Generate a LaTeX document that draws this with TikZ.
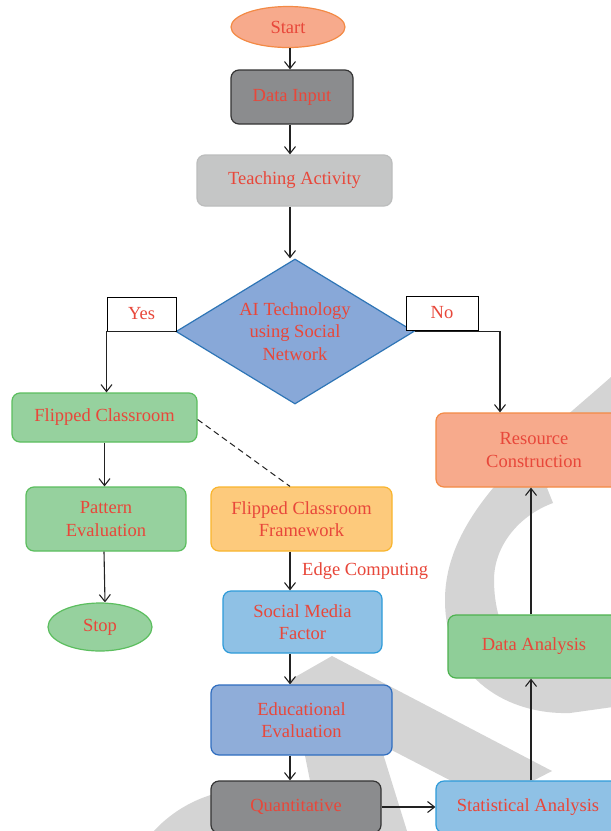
\documentclass[tikz,border=0pt]{standalone}
\usepackage{fontspec}
\setmainfont{Liberation Serif}
\usetikzlibrary{arrows.meta,shapes.geometric}
\definecolor{txt}{HTML}{E8473A}
\definecolor{wm}{HTML}{D4D4D4}
\definecolor{lineC}{HTML}{222222}
\definecolor{orF}{HTML}{F7AA8C}\definecolor{orD}{HTML}{F38A45}
\definecolor{dgF}{HTML}{8B8C8E}\definecolor{dgD}{HTML}{343434}
\definecolor{lgF}{HTML}{C5C6C6}\definecolor{lgD}{HTML}{BCBDBD}
\definecolor{diaF}{HTML}{88A8D8}\definecolor{diaD}{HTML}{2E75B6}
\definecolor{grF}{HTML}{96D19E}\definecolor{grD}{HTML}{5BBE5E}
\definecolor{yeF}{HTML}{FDCA7C}\definecolor{yeD}{HTML}{F9B52D}
\definecolor{lbF}{HTML}{8FC1E5}\definecolor{lbD}{HTML}{2E9BD9}
\definecolor{mbF}{HTML}{8FADD9}\definecolor{mbD}{HTML}{2F6DBF}
\definecolor{daF}{HTML}{8FCE98}\definecolor{daD}{HTML}{4DB24F}
\tikzset{
  txtfont/.style={font=\fontsize{18.5}{22.5}\selectfont, text=txt},
  box/.style={rectangle, rounded corners=8pt, line width=1.2pt, align=center, inner sep=0pt, txtfont},
  ell/.style={ellipse, line width=1.2pt, inner sep=0pt, txtfont},
  lab/.style={rectangle, draw=black, fill=white, line width=1pt, inner sep=0pt, txtfont},
  arr/.style={-{Straight Barb[length=7pt,width=11pt]}, line width=1.1pt, draw=lineC},
}
\begin{document}
\begin{tikzpicture}[x=1pt,y=-1pt]
\useasboundingbox (0,0) rectangle (611,831);
\fill[white] (0,0) rectangle (611,831);
% watermark
\begin{scope}
\clip (0,0) rectangle (611,831);
\fill[wm] (620,370) -- (611,377) .. controls (540,440) and (445,510) .. (445,600)
  .. controls (445,680) and (510,715) .. (570,713) -- (620,706) -- (620,672) -- (565,677)
  .. controls (520,677) and (494,630) .. (494,580) .. controls (494,545) and (520,515) .. (553,503)
  -- (547,488) -- (620,425) -- cycle;
\fill[wm] (332,656) -- (552,771) -- (492,802) -- (380,744) -- (407,831) -- (320,831) -- (290,680) -- cycle;
\fill[wm] (250,920) circle[radius=131pt];
\end{scope}
\coordinate (ax) at (290,0);
\coordinate (vx) at (531,0);
% nodes
\node[ell, fill=orF, draw=orD, minimum width=114pt, minimum height=41pt] (start) at (288,27) {Start};
\node[box, fill=dgF, draw=dgD, minimum width=122pt, minimum height=54pt] (di) at (292,97) {Data Input};
\node[box, fill=lgF, draw=lgD, minimum width=195pt, minimum height=51pt] (ta) at (294.5,180.5) {Teaching Activity};
\node[diamond, aspect=1.63, minimum width=238pt, minimum height=145pt, fill=diaF, draw=diaD, line width=1.2pt, inner sep=0pt, align=center, txtfont] (dia) at (295,331.5) {AI Technology\\using Social\\Network};
\node[lab, minimum width=69pt, minimum height=34pt] (yes) at (141.5,314) {Yes};
\node[lab, minimum width=72pt, minimum height=34pt] (no) at (442,313) {No};
\node[box, fill=grF, draw=grD, minimum width=185pt, minimum height=49pt] (fc) at (104.5,417.5) {Flipped Classroom};
\node[box, fill=grF, draw=grD, minimum width=160pt, minimum height=64pt] (pe) at (106,519) {Pattern\\Evaluation};
\node[ell, fill=grF, draw=grD, minimum width=104pt, minimum height=48pt] (stop) at (100,627) {Stop};
\node[box, fill=yeF, draw=yeD, minimum width=181pt, minimum height=64pt] (fcf) at (301.5,519) {Flipped Classroom\\Framework};
\node[txtfont, inner sep=0pt, anchor=west] (edge) at (302,571) {Edge Computing};
\node[box, fill=lbF, draw=lbD, minimum width=159pt, minimum height=62pt] (smf) at (302.5,622) {Social Media\\Factor};
\node[box, fill=mbF, draw=mbD, minimum width=181pt, minimum height=70pt] (ee) at (301.5,720) {Educational\\Evaluation};
\node[box, fill=dgF, draw=dgD, minimum width=170pt, minimum height=52pt] (q) at (296,807) {Quantitative};
\node[box, fill=lbF, draw=lbD, minimum width=184pt, minimum height=52pt] (stat) at (528,807) {Statistical Analysis};
\node[box, fill=daF, draw=daD, minimum width=172pt, minimum height=63pt] (da) at (534,646.5) {Data Analysis};
\node[box, fill=orF, draw=orD, minimum width=196pt, minimum height=74pt] (rc) at (534,450) {Resource\\Construction};
% connectors
\draw[arr] (start.south -| ax) -- (di.north -| ax);
\draw[arr] (di.south -| ax) -- (ta.north -| ax);
\draw[arr] (ta.south -| ax) -- (dia.north -| ax);
\draw[arr] (dia.west) -| (yes.south west |- fc.north);
\draw[arr] (dia.east) -| ([xshift=-34pt]rc.north);
\draw[arr] (fc.south) -- (fc.south |- pe.north);
\draw[arr] ([xshift=-2pt]pe.south) -- ([xshift=5pt]stop.north);
\draw[dashed, dash pattern=on 6pt off 4pt, line width=1pt, draw=lineC] ([yshift=-2pt]fc.east) -- (fcf.north -| ax);
\draw[arr] (fcf.south -| ax) -- (smf.north -| ax);
\draw[arr] (smf.south -| ax) -- (ee.north -| ax);
\draw[arr] (ee.south -| ax) -- (q.north -| ax);
\draw[arr] (q.east) -- (stat.west);
\draw[arr] (stat.north -| vx) -- (da.south -| vx);
\draw[arr] (da.north -| vx) -- (rc.south -| vx);
\end{tikzpicture}
\end{document}
